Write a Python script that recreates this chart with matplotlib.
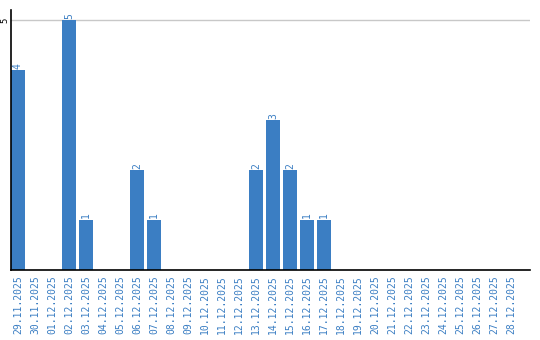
import matplotlib
matplotlib.use("Agg")
import matplotlib.pyplot as plt

dates = ["29.11.2025", "30.11.2025"] + ["%02d.12.2025" % d for d in range(1, 29)]
values = [4, 0, 0, 5, 1, 0, 0, 2, 1, 0, 0, 0, 0, 0, 2, 3, 2, 1, 1, 0,
          0, 0, 0, 0, 0, 0, 0, 0, 0, 0]

blue = "#3b7ec3"

fig = plt.figure(figsize=(5.4, 3.4), dpi=100)
ax = fig.add_axes([10.5 / 540, 70 / 340, 519.5 / 540, 260 / 340])

x = list(range(len(dates)))
ax.bar(x, values, width=0.82, color=blue, zorder=2)

for i, v in enumerate(values):
    if v > 0:
        ax.text(i, v + 0.03, str(v), rotation=90, ha="center", va="bottom",
                color=blue, fontsize=7, family="DejaVu Sans Mono")

ax.axhline(5, color="#c8c8c8", lw=1, zorder=1)
ax.set_xlim(-0.44, 30.1)
ax.set_ylim(0, 5.2)

ax.set_xticks(x)
ax.set_xticklabels(dates, rotation=90, color=blue, fontsize=7, family="DejaVu Sans Mono")
ax.set_yticks([5])
ax.set_yticklabels(["5"], rotation=90, fontsize=6.5, family="DejaVu Sans Mono", va="center")
ax.tick_params(axis="x", length=0, pad=4)
ax.tick_params(axis="y", length=0, pad=1)

for s in ["top", "right"]:
    ax.spines[s].set_visible(False)
ax.spines["left"].set_color("black")
ax.spines["bottom"].set_color("black")
ax.spines["left"].set_linewidth(1.2)
ax.spines["bottom"].set_linewidth(1.2)

fig.savefig("out.png", dpi=100)
